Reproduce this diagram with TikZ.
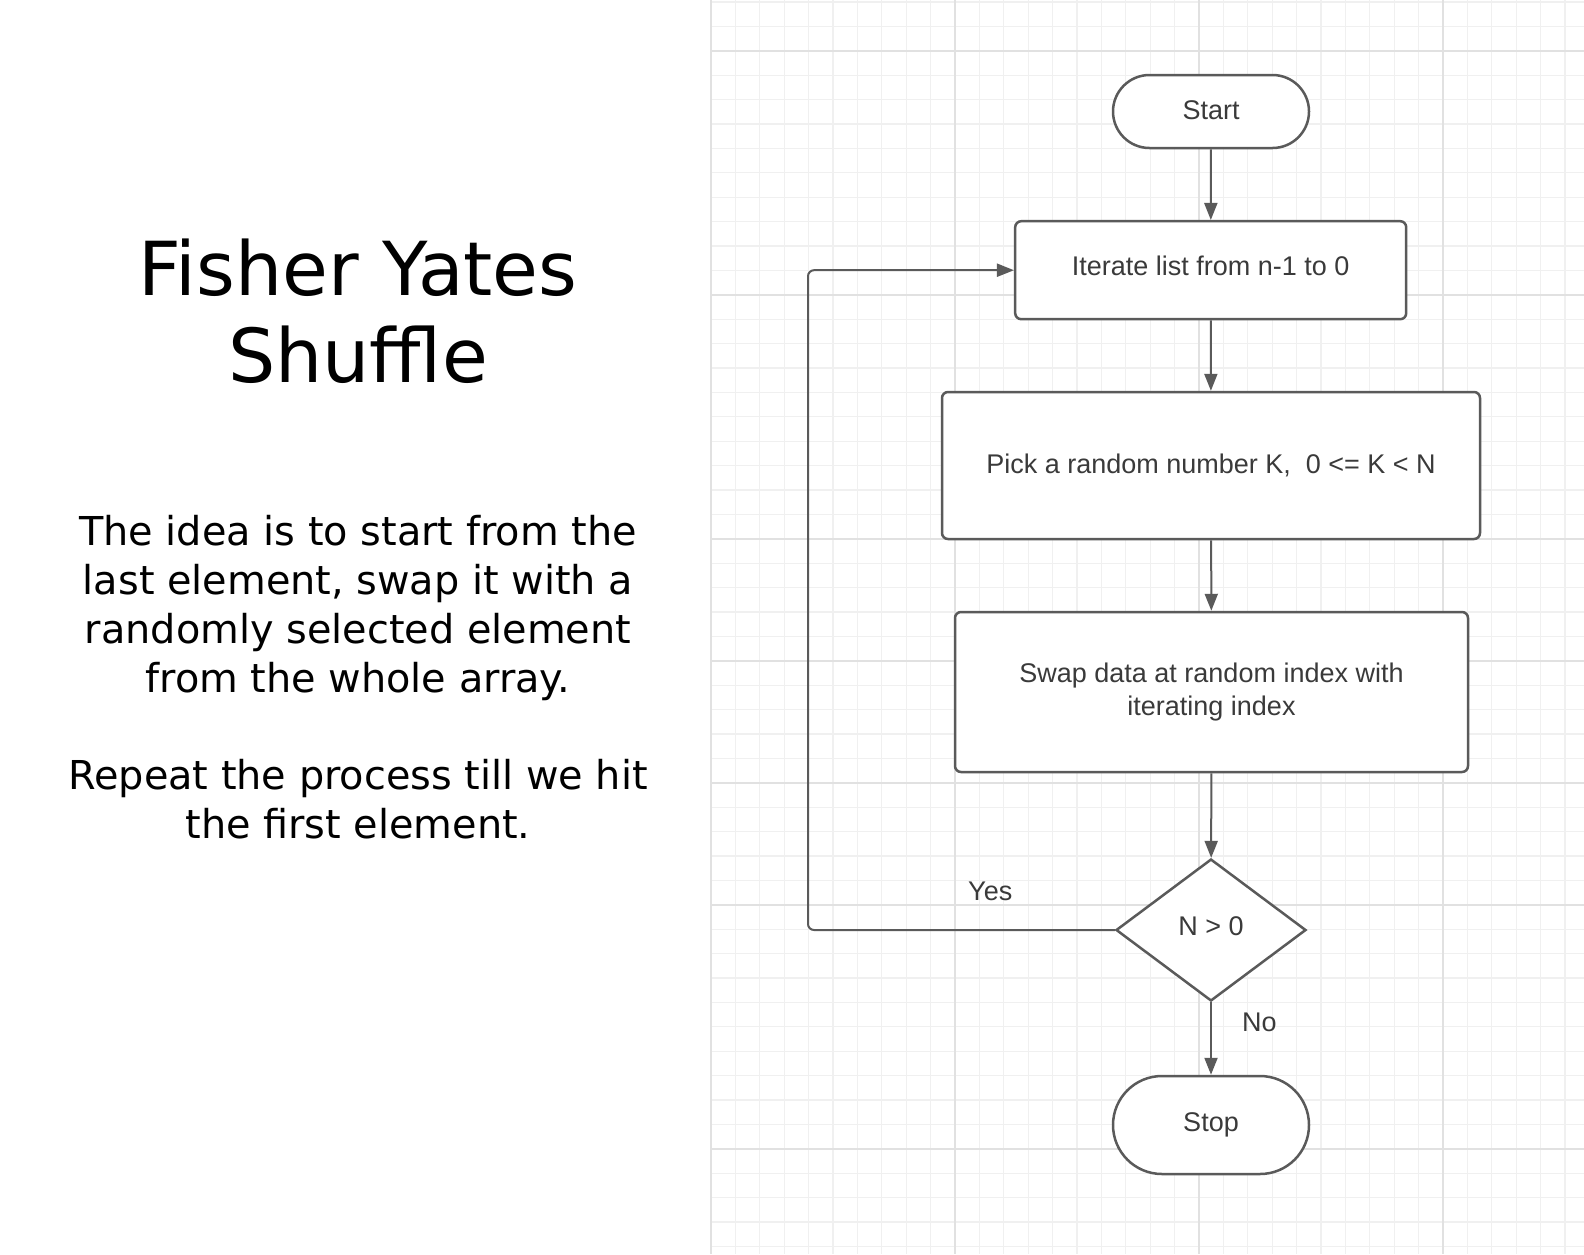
\documentclass[tikz,border=0pt]{standalone}
\usepackage{fontspec}
\setmainfont{Liberation Sans}
\newfontfamily\verdana{DejaVu Sans}
\usetikzlibrary{arrows.meta,shapes.misc,shapes.geometric}
\definecolor{trait}{HTML}{5A5A5A}
\definecolor{texte}{HTML}{3A3A3A}
\definecolor{grille}{HTML}{F0F0F0}
\definecolor{grilleforte}{HTML}{E1E1E1}
\tikzset{
Contour/.style={
 draw=trait, 
 line width=2.5pt, 
 fill=white, 
 inner sep=0pt, 
 text=texte, 
 align=center, 
 font=\fontsize{27}{32.5}\selectfont
 },
Boite/.style={
 Contour, 
 rectangle, 
 rounded corners=6pt
 },
Terminal/.style={
 Contour, 
 rounded rectangle
 },
Losange/.style={
 Contour, 
 diamond, 
 aspect=1.34
 },
Fleche/.style={
 draw=trait, 
 line width=2pt, 
 -{Triangle[length=17pt,width=13pt]}
 },
Etiquette/.style={
 inner sep=0pt, 
 text=texte, 
 font=\fontsize{27}{32.5}\selectfont
 },
Grille/.style={
 draw=grille, 
 line width=1.2pt
 },
GrilleForte/.style={
 draw=grilleforte, 
 line width=1.6pt
 }
}
\begin{document}
\begin{tikzpicture}[x=1pt,y=-1pt]
\fill[white] (0,0) rectangle (1584,1254);
\useasboundingbox (0,0) rectangle (1584,1254);
% fond quadrille
\foreach \i in {0,...,35}
 \draw[Grille] ({711+24.4*\i},0) -- ({711+24.4*\i},1254);
\foreach \j in {0,...,51}
 \draw[Grille] (711,{1.9+24.4*\j}) -- (1584,{1.9+24.4*\j});
\foreach \x in {711,955,1199,1443}
 \draw[GrilleForte] (\x,0) -- (\x,1254);
\foreach \y in {50.7,295,539,661,783,905,1149}
 \draw[GrilleForte] (711,\y) -- (1584,\y);
% titre et explication (base = ligne du bas)
\node[anchor=base, align=center, font=\verdana\fontsize{74.5}{87}\selectfont] (titre) at (358,382) {Fisher Yates\\Shuffle};
\node[anchor=base, align=center, font=\verdana\fontsize{39.8}{48.8}\selectfont] (idee) at (358,838.5) {The idea is to start from the\\last element, swap it with a\\randomly selected element\\from the whole array.\\[48.8pt]Repeat the process till we hit\\the first element.};
% organigramme
\node[Terminal, minimum width=196pt, minimum height=73pt, text depth=2pt] (debut) at (1211,111.5) {Start};
\node[Boite, minimum width=391pt, minimum height=98pt, text depth=8pt] (iter) at (1210.7,270.2) {Iterate list from n-1 to 0};
\node[Boite, minimum width=538pt, minimum height=147pt] (choix) at (1211,465.5) {Pick a random number K,\ \ 0 <= K < N};
\node[Boite, minimum width=513pt, minimum height=160pt] (echange) at (1211.5,692) {Swap data at random index with\\iterating index};
\node[Losange, minimum width=190pt, minimum height=142pt, text depth=8pt] (test) at (1211,930) {N > 0};
\node[Terminal, minimum width=196pt, minimum height=98pt] (fin) at (1211,1125) {Stop};
\coordinate (retour) at (808,600);
\draw[Fleche] (debut) -- (iter);
\draw[Fleche] (iter) -- (choix);
\draw[Fleche] (choix) -- (echange);
\draw[Fleche] (echange) -- (test);
\draw[Fleche] (test) -- node[Etiquette, pos=0.28, right=30pt] {No} (fin);
\draw[Fleche, rounded corners=6pt] (test.west) -- node[Etiquette, pos=0.406, above=28pt] {Yes} (test.west -| retour) |- (iter.west);
\end{tikzpicture}
\end{document}
